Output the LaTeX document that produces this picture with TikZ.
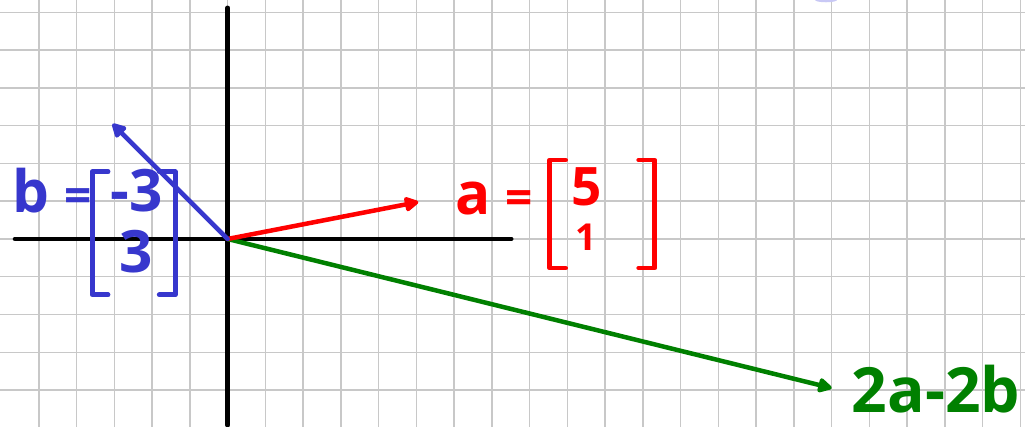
\documentclass[tikz,border=0pt]{standalone}
\usepackage{fontspec}
\setmainfont{Open Sans}
\usetikzlibrary{positioning, arrows.meta}
\definecolor{penred}{RGB}{255,0,0}
\definecolor{penblue}{RGB}{55,55,205}
\definecolor{pengreen}{RGB}{0,128,0}
\definecolor{gridgray}{RGB}{200,200,200}
\definecolor{palelilac}{RGB}{200,200,245}
\newcommand{\smalleq}{{\fontsize{36}{36}\selectfont=}}
\begin{document}
\begin{tikzpicture}[
    % Estilos
    gridline/.style={gridgray, line width=1.1pt},
    axis/.style={black, line width=3.6pt, line cap=round},
    vec/.style={line width=3.4pt, line cap=round, -{Triangle[length=12pt, width=12pt, round]}},
    handtext/.style={font=\fontsize{44}{46}\selectfont\bfseries, inner sep=0pt},
    vecbox/.style={handtext, align=center},
    brkbox/.style={inner sep=0pt, outer sep=0pt},
    brk/.style={line width=3.6pt, line cap=round, line join=round}
]
    % Hoja cuadriculada
    \useasboundingbox (-6.03,-4.98) rectangle (21.12,6.33);
    \fill[white] (-6.03,-4.98) rectangle (21.12,6.33);
    \foreach \x in {-5,...,21} \draw[gridline] (\x,-4.98) -- (\x,6.33);
    \foreach \y in {-4,...,6} \draw[gridline] (-6.03,\y) -- (21.12,\y);
    \fill[palelilac] (15.56,6.33) arc[start angle=180, end angle=360, x radius=0.29, y radius=0.06];

    % Ejes
    \coordinate (O) at (0,0);
    \coordinate (xl) at (-5.63,0);
    \coordinate (xr) at (7.51,0);
    \coordinate (yt) at (0,6.12);
    \coordinate (yb) at (0,-4.93);
    \draw[axis] (xl) -- (xr);
    \draw[axis] (yt) -- (yb);

    % Vectores
    \coordinate (A) at (5.05,0.98);
    \coordinate (B) at (-3.05,3.05);
    \coordinate (C) at (16,-3.95);
    \draw[vec, pengreen] (O) -- (C);
    \draw[vec, penred] (O) -- (A);
    \draw[vec, penblue] (O) -- (B);

    % Etiqueta de b
    \node[handtext, penblue, anchor=base west] (blabel) at (-5.71,0.69) {b \smalleq};
    \node[brkbox, minimum width=2.2cm, minimum height=3.26cm] (bbox) at (-2.49,0.15) {};
    \node[vecbox, penblue] (bvec) at ([xshift=2pt, yshift=9pt]bbox.center) {-3\\3};
    \draw[brk, penblue] ([xshift=12pt]bbox.north west) -- (bbox.north west)
        -- (bbox.south west) -- ([xshift=12pt]bbox.south west);
    \draw[brk, penblue] ([xshift=-12pt]bbox.north east) -- (bbox.north east)
        -- (bbox.south east) -- ([xshift=-12pt]bbox.south east);

    % Etiqueta de a
    \node[handtext, penred, anchor=base west] (alabel) at (6.03,0.64) {a \smalleq};
    \node[brkbox, minimum width=2.78cm, minimum height=2.86cm] (abox) at (9.92,0.66) {};
    \node[vecbox, penred, font=\fontsize{40}{34}\selectfont\bfseries] (avec)
        at ([xshift=-12pt, yshift=4pt]abox.center) {5\\{\fontsize{28}{28}\selectfont 1}};
    \draw[brk, penred] ([xshift=12pt]abox.north west) -- (abox.north west)
        -- (abox.south west) -- ([xshift=12pt]abox.south west);
    \draw[brk, penred] ([xshift=-12pt]abox.north east) -- (abox.north east)
        -- (abox.south east) -- ([xshift=-12pt]abox.south east);

    % Etiqueta de 2a-2b
    \node[handtext, pengreen, font=\fontsize{47}{50}\selectfont\bfseries, anchor=base west]
        (clabel) at (16.53,-4.6) {2a-2b};
\end{tikzpicture}
\end{document}
